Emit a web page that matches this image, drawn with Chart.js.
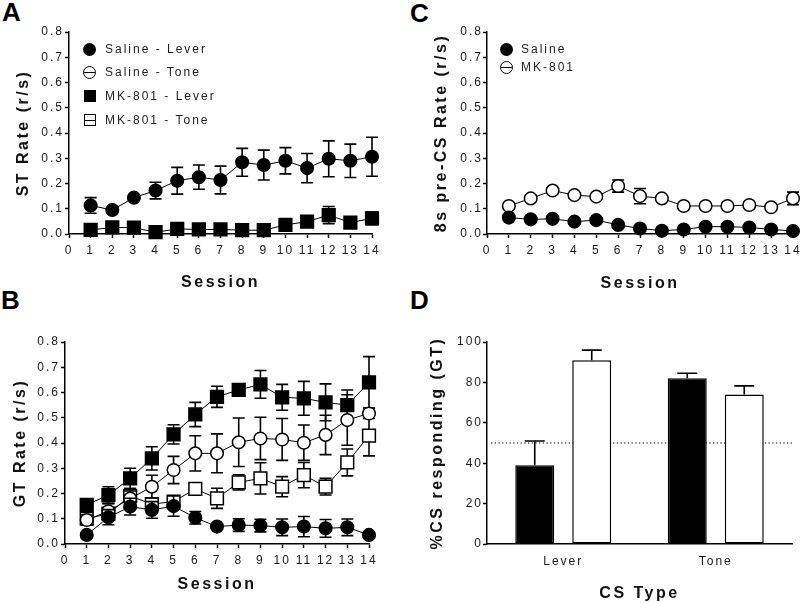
<!DOCTYPE html>
<html>
<head>
<meta charset="utf-8">
<script src="https://cdn.jsdelivr.net/npm/chart.js@4.4.1/dist/chart.umd.min.js"></script>
<style>
  html, body { margin: 0; padding: 0; background: #fff; }
  body { position: relative; width: 800px; height: 603px; overflow: hidden; font-family: "Liberation Sans", Arial, sans-serif; }
  .panel { position: absolute; }
  .tag { position: absolute; font-weight: bold; font-size: 26px; line-height: 26px; color: #000; }
  .key { position: absolute; height: 16px; line-height: 16px; font-size: 12px; letter-spacing: 2px; color: #222; white-space: nowrap; }
  .key .txt { padding-left: 22px; }
  .sym { position: absolute; left: 0; box-sizing: border-box; }
  .fc { top: 1.5px; width: 13px; height: 13px; border-radius: 50%; background: #000; }
  .oc { top: 1.5px; width: 13px; height: 13px; border-radius: 50%; border: 1.5px solid #000;
        background: linear-gradient(#000, #000) center / 100% 1px no-repeat, #fff; }
  .fs { top: 2px; left: 0.5px; width: 12px; height: 12px; background: #000; }
  .os { top: 2px; left: 0.5px; width: 12px; height: 12px; border: 1.5px solid #000;
        background: linear-gradient(#000, #000) center / 100% 1px no-repeat, #fff; }
</style>
</head>
<body>
<div class="tag" style="left:2px; top:-1px">A</div>
<div class="tag" style="left:1px; top:287px">B</div>
<div class="tag" style="left:410px; top:0px">C</div>
<div class="tag" style="left:410px; top:287px">D</div>

<div class="panel" style="left:0; top:0"><canvas id="chartA" width="400" height="300"></canvas></div>
<div class="panel" style="left:0; top:300px"><canvas id="chartB" width="400" height="303"></canvas></div>
<div class="panel" style="left:400px; top:0"><canvas id="chartC" width="420" height="300"></canvas></div>
<div class="panel" style="left:400px; top:300px"><canvas id="chartD" width="420" height="303"></canvas></div>

<div class="key" style="left:83px; top:41px"><span class="sym fc"></span><span class="txt">Saline - Lever</span></div>
<div class="key" style="left:83px; top:64px"><span class="sym oc"></span><span class="txt">Saline - Tone</span></div>
<div class="key" style="left:83px; top:88px"><span class="sym fs"></span><span class="txt">MK-801 - Lever</span></div>
<div class="key" style="left:83px; top:112px"><span class="sym os"></span><span class="txt">MK-801 - Tone</span></div>

<div class="key" style="left:500px; top:41px"><span class="sym fc"></span><span class="txt" style="padding-left:21px">Saline</span></div>
<div class="key" style="left:500px; top:59px"><span class="sym oc"></span><span class="txt" style="padding-left:21px">MK-801</span></div>

<script>
// sessions on the x axis of A, B, C
const sessions = [1, 2, 3, 4, 5, 6, 7, 8, 9, 10, 11, 12, 13, 14];

// A: sign-tracking rate (r/s), mean and SEM
const stSalineLever = [0.113, 0.095, 0.144, 0.172, 0.211, 0.225, 0.214, 0.284, 0.273, 0.290, 0.261, 0.298, 0.290, 0.306];
const stSalineLeverSem = [0.031, 0.008, 0.008, 0.033, 0.053, 0.048, 0.055, 0.055, 0.059, 0.052, 0.058, 0.071, 0.066, 0.077];
const stMkLever = [0.016, 0.026, 0.025, 0.007, 0.020, 0.018, 0.018, 0.015, 0.015, 0.036, 0.049, 0.075, 0.045, 0.062];
const stMkLeverSem = [0.008, 0.008, 0.008, 0.005, 0.008, 0.008, 0.008, 0.008, 0.008, 0.010, 0.012, 0.034, 0.010, 0.025];

// B: goal-tracking rate (r/s)
const gtSalineLever = [0.036, 0.106, 0.148, 0.135, 0.150, 0.104, 0.069, 0.075, 0.073, 0.066, 0.069, 0.062, 0.066, 0.036];
const gtSalineLeverSem = [0.010, 0.030, 0.033, 0.033, 0.040, 0.025, 0.010, 0.025, 0.025, 0.033, 0.040, 0.035, 0.033, 0.010];
const gtSalineTone = [0.095, 0.130, 0.180, 0.227, 0.293, 0.359, 0.359, 0.403, 0.418, 0.414, 0.401, 0.432, 0.491, 0.517];
const gtSalineToneSem = [0.020, 0.030, 0.030, 0.045, 0.054, 0.070, 0.077, 0.096, 0.084, 0.083, 0.070, 0.078, 0.100, 0.020];
const gtMkLever = [0.155, 0.194, 0.260, 0.339, 0.434, 0.513, 0.583, 0.610, 0.632, 0.581, 0.577, 0.561, 0.550, 0.640];
const gtMkLeverSem = [0.020, 0.033, 0.040, 0.046, 0.038, 0.048, 0.042, 0.015, 0.055, 0.051, 0.067, 0.073, 0.060, 0.102];
const gtMkTone = [0.100, 0.120, 0.190, 0.158, 0.168, 0.218, 0.181, 0.244, 0.260, 0.227, 0.273, 0.227, 0.323, 0.429];
const gtMkToneSem = [0.015, 0.020, 0.030, 0.020, 0.020, 0.015, 0.040, 0.030, 0.062, 0.040, 0.050, 0.033, 0.053, 0.080];

// C: 8 s pre-CS rate (r/s)
const preSaline = [0.065, 0.058, 0.060, 0.049, 0.055, 0.036, 0.022, 0.013, 0.018, 0.029, 0.029, 0.026, 0.018, 0.012];
const preSalineSem = [0.008, 0.008, 0.008, 0.008, 0.008, 0.008, 0.008, 0.006, 0.008, 0.008, 0.008, 0.008, 0.008, 0.006];
const preMk = [0.111, 0.141, 0.172, 0.154, 0.148, 0.190, 0.150, 0.141, 0.111, 0.111, 0.111, 0.115, 0.106, 0.141];
const preMkSem = [0.010, 0.012, 0.012, 0.010, 0.010, 0.024, 0.030, 0.010, 0.010, 0.008, 0.008, 0.010, 0.010, 0.025];

// D: % CS responding (GT)
const csTypes = ['Lever', 'Tone'];
const pctSaline = [39, 82];
const pctSalineSem = [12, 2.5];
const pctMk = [91, 74];
const pctMkSem = [5, 4.3];
const chanceLevel = 50;

const rateTicks = [0, 0.8, 0.1];   // min, max, step
const pctTicks = [0, 100, 20];

// canvas text has no CSS letter-spacing, so tie it to the font the chart sets
const fontDesc = Object.getOwnPropertyDescriptor(CanvasRenderingContext2D.prototype, 'font');
Object.defineProperty(CanvasRenderingContext2D.prototype, 'font', {
  configurable: true,
  get() { return fontDesc.get.call(this); },
  set(v) {
    fontDesc.set.call(this, v);
    this.letterSpacing = v.includes('bold') ? '2.5px' : '2px';
  },
});

Chart.defaults.font.family = '"Liberation Sans", Arial, sans-serif';
Chart.defaults.font.size = 12;
Chart.defaults.color = '#1a1a1a';

const errorBars = {
  id: 'errorBars',
  beforeDatasetDraw(chart, args) {
    const ds = chart.data.datasets[args.index];
    if (!ds.errors) return;
    const { ctx } = chart;
    const y = chart.scales.y;
    const cap = ds.capHalf || 6;
    ctx.save();
    ctx.strokeStyle = '#000';
    ctx.lineWidth = 1.6;
    args.meta.data.forEach((el, i) => {
      const d = ds.data[i];
      const v = typeof d === 'object' ? d.y : d;
      const e = ds.errors[i];
      const top = y.getPixelForValue(v + e);
      const bot = y.getPixelForValue(ds.upOnly ? v : v - e);
      ctx.beginPath();
      ctx.moveTo(el.x, top);
      ctx.lineTo(el.x, bot);
      ctx.moveTo(el.x - cap, top);
      ctx.lineTo(el.x + cap, top);
      if (!ds.upOnly) {
        ctx.moveTo(el.x - cap, bot);
        ctx.lineTo(el.x + cap, bot);
      }
      ctx.stroke();
    });
    ctx.restore();
  },
};

const chanceLine = {
  id: 'chanceLine',
  beforeDatasetsDraw(chart) {
    const { ctx, chartArea } = chart;
    const yy = chart.scales.y.getPixelForValue(chanceLevel);
    ctx.save();
    ctx.setLineDash([1.3, 2.4]);
    ctx.lineWidth = 1.2;
    ctx.strokeStyle = '#000';
    ctx.beginPath();
    ctx.moveTo(chartArea.left + 4, yy);
    ctx.lineTo(chartArea.right, yy);
    ctx.stroke();
    ctx.restore();
  },
};

function series(label, values, errors, style, filled) {
  return {
    label,
    errors,
    data: sessions.map((s, i) => ({ x: s, y: values[i] })),
    clip: false,
    borderColor: '#000',
    borderWidth: 1,
    pointStyle: style,
    pointRadius: style === 'rect' ? 9 : 6.3,
    pointBackgroundColor: filled ? '#000' : '#fff',
    pointBorderColor: '#000',
    pointBorderWidth: 1.5,
    tension: 0,
    fill: false,
  };
}

const axisLine = {
  grid: { drawOnChartArea: false, tickLength: 4, tickWidth: 1.5, color: '#000' },
  border: { color: '#000', width: 1.5 },
};

function titleOpts(text, pad) {
  return { display: true, text, color: '#111', font: { size: 16, weight: 'bold' }, padding: pad };
}

function sessionChart(id, yTitle, datasets, d) {
  return new Chart(document.getElementById(id), {
    type: 'line',
    data: { datasets },
    plugins: [errorBars],
    options: {
      responsive: false,
      animation: false,
      events: [],
      layout: { padding: d.padding },
      plugins: { legend: { display: false }, tooltip: { enabled: false } },
      scales: {
        x: {
          type: 'linear', min: 0, max: 14,
          ticks: { stepSize: 1, autoSkip: false, maxRotation: 0, padding: 5 },
          ...axisLine,
          title: titleOpts('Session', { top: 0, bottom: d.xTitlePad }),
          afterFit: s => { s.height = d.xHeight; },
        },
        y: {
          min: rateTicks[0], max: rateTicks[1],
          ticks: { stepSize: rateTicks[2], padding: d.yTickPad, callback: v => v.toFixed(1) },
          ...axisLine,
          title: titleOpts(yTitle, { top: d.yTitlePad, bottom: 0 }),
          afterFit: s => { s.width = d.yWidth; },
        },
      },
    },
  });
}

sessionChart('chartA', 'ST Rate (r/s)', [
  series('Saline - Lever', stSalineLever, stSalineLeverSem, 'circle', true),
  series('MK-801 - Lever', stMkLever, stMkLeverSem, 'rect', true),
], { padding: { left: 0, top: 32, right: 28, bottom: 0 }, yWidth: 69, xHeight: 66, yTitlePad: 14, xTitlePad: 8, yTickPad: 1 });

sessionChart('chartB', 'GT Rate (r/s)', [
  series('Saline - Lever', gtSalineLever, gtSalineLeverSem, 'circle', true),
  series('Saline - Tone', gtSalineTone, gtSalineToneSem, 'circle', false),
  series('MK-801 - Lever', gtMkLever, gtMkLeverSem, 'rect', true),
  series('MK-801 - Tone', gtMkTone, gtMkToneSem, 'rect', false),
], { padding: { left: 0, top: 42, right: 31, bottom: 0 }, yWidth: 65, xHeight: 59, yTitlePad: 11, xTitlePad: 9, yTickPad: 1 });

sessionChart('chartC', '8s pre-CS Rate (r/s)', [
  series('Saline', preSaline, preSalineSem, 'circle', true),
  series('MK-801', preMk, preMkSem, 'circle', false),
], { padding: { left: 0, top: 32, right: 27, bottom: 0 }, yWidth: 87, xHeight: 66, yTitlePad: 32, xTitlePad: 7, yTickPad: 0 });

function barSet(label, values, errors, fillColor) {
  return {
    label, errors,
    data: values,
    upOnly: true,
    capHalf: 10,
    backgroundColor: fillColor,
    borderColor: '#000',
    borderWidth: 1.5,
    borderSkipped: false,
    categoryPercentage: 0.7475,
    barPercentage: 0.684,
  };
}

new Chart(document.getElementById('chartD'), {
  type: 'bar',
  data: {
    labels: csTypes,
    datasets: [
      barSet('Saline', pctSaline, pctSalineSem, '#000'),
      barSet('MK-801', pctMk, pctMkSem, '#fff'),
    ],
  },
  plugins: [errorBars, chanceLine],
  options: {
    responsive: false,
    animation: false,
    events: [],
    layout: { padding: { left: 0, top: 42, right: 28, bottom: 0 } },
    plugins: { legend: { display: false }, tooltip: { enabled: false } },
    scales: {
      x: {
        ticks: { padding: 10 },
        grid: { drawOnChartArea: false, drawTicks: false },
        border: { color: '#000', width: 1.5 },
        title: titleOpts('CS Type', { top: 0, bottom: 0 }),
        afterFit: s => { s.height = 59; },
      },
      y: {
        min: pctTicks[0], max: pctTicks[1],
        ticks: { stepSize: pctTicks[2], padding: 0 },
        ...axisLine,
        title: titleOpts('%CS responding (GT)', { top: 28, bottom: 0 }),
        afterFit: s => { s.width = 87; },
      },
    },
  },
});
</script>
</body>
</html>
